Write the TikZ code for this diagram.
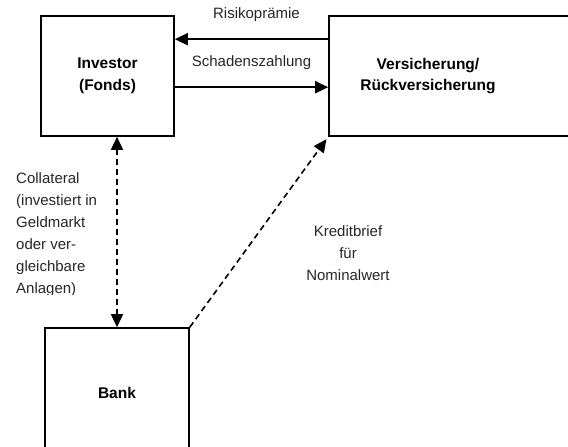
\documentclass[tikz,border=0pt]{standalone}
\usepackage{fontspec}
\setmainfont{Liberation Sans}
\usetikzlibrary{arrows.meta}

\begin{document}
\begin{tikzpicture}[x=1pt, y=-1pt,
  font=\fontsize{15}{22}\selectfont,
  >={Triangle[length=13pt,width=12pt]},
  party/.style={draw, line width=1.6pt, inner sep=0pt, align=center,
                font=\fontsize{15.5}{21.5}\selectfont\bfseries},
  flow/.style={line width=1.6pt, ->},
  dflow/.style={line width=1.6pt, dash pattern=on 6pt off 4pt},
  lbl/.style={anchor=base, yshift=21pt, text=black!85}
]

% =====================================================================
% Canvas (cropped like the original)
% =====================================================================
\useasboundingbox (0,0) rectangle (568,447);
\clip (0,0) rectangle (568,447);

% =====================================================================
% Parties
% =====================================================================
\node[party, minimum width=133pt, minimum height=120pt] (inv) at (107.5,76)
  {Investor\\(Fonds)};

% box runs past the right edge, text sits left of its centre
\node[party, minimum width=246pt, minimum height=120pt] (vers) at (452,76) {};
\node[party, draw=none] (verstext) at (428,76) {Versicherung/\\Rückversicherung};

\node[party, minimum width=144pt, minimum height=130pt] (bank) at (117,393)
  {Bank};

% =====================================================================
% Payment flows between investor and insurer
% =====================================================================
\draw[flow] ([yshift=-24pt]vers.north west) -- ([yshift=-24pt]inv.north east)
  node[midway, lbl, xshift=5pt] {Risikoprämie};

\draw[flow] ([yshift=-72pt]inv.north east) -- ([yshift=-72pt]vers.north west)
  node[midway, lbl] {Schadenszahlung};

% =====================================================================
% Collateral (bank <-> investor), text cut at the bottom
% =====================================================================
\draw[dflow, <->] (bank.north) -- (bank.north |- inv.south);

% base anchor of a multi-line node = baseline of its last line
\begin{scope}
  \clip (0,0) rectangle (568,294);
  \node[anchor=base west, inner sep=0pt, align=left, text=black!85] (coll)
    at (16,293) {Collateral\\(investiert in\\Geldmarkt\\oder ver-\\gleichbare\\Anlagen)};
\end{scope}

% =====================================================================
% Letter of credit (bank -> insurer)
% =====================================================================
\draw[dflow, ->, shorten >=3pt] (bank.north east) -- (vers.south west);

\node[anchor=base, inner sep=0pt, align=center, text=black!85] (lc)
  at (348,280) {Kreditbrief\\für\\Nominalwert};

\end{tikzpicture}
\end{document}
